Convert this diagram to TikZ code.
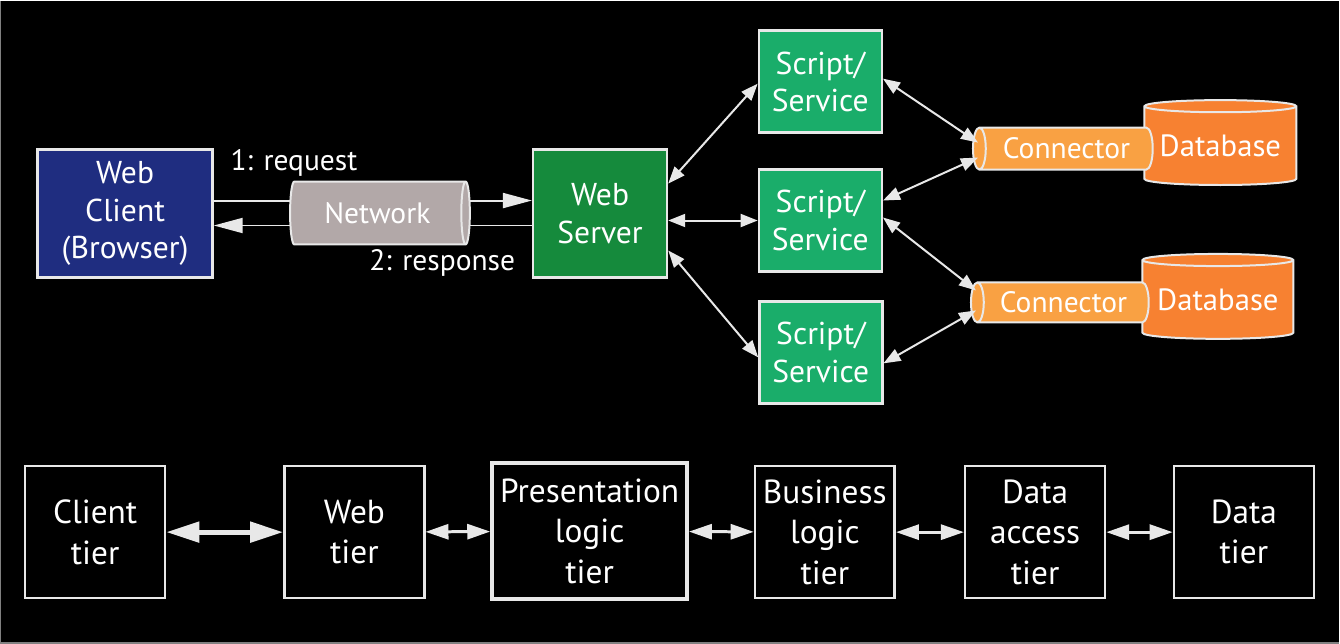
\documentclass[tikz,border=0pt]{standalone}
\usepackage{fontspec}
\setmainfont{PT Sans}
\usetikzlibrary{arrows.meta,shapes.geometric}

\definecolor{linegray}{HTML}{E8E8E8}
\definecolor{clientblue}{HTML}{1F2D80}
\definecolor{servergreen}{HTML}{158A3C}
\definecolor{scriptgreen}{HTML}{1AAD6A}
\definecolor{netgray}{HTML}{B2A8A8}
\definecolor{conorange}{HTML}{F9A143}
\definecolor{dborange}{HTML}{F78131}

\begin{document}
\begin{tikzpicture}[x=0.02cm,y=-0.02cm,
	box/.style={draw=linegray, line width=0.05cm, text=white, align=center, inner sep=0pt, font=\fontsize{18}{21.3}\selectfont},
	scriptbox/.style={box, fill=scriptgreen, minimum width=2.46cm, minimum height=2.04cm},
	tierbox/.style={box, fill=black, minimum width=2.8cm, minimum height=2.64cm, font=\fontsize{19}{23}\selectfont},
	pipe/.style={cylinder, draw=linegray, line width=0.04cm, text=white, inner sep=0pt, font=\fontsize{16.8}{19}\selectfont},
	lbl/.style={text=white, inner sep=0pt, font=\fontsize{16.8}{19}\selectfont},
	link/.style={draw=linegray, line width=0.04cm, {Triangle[width=0.26cm,length=0.34cm]}-{Triangle[width=0.26cm,length=0.34cm]}},
	tierlink/.style={draw=linegray, line width=0.06cm, {Triangle[width=0.3cm,length=0.46cm]}-{Triangle[width=0.3cm,length=0.46cm]}},
	wirehead/.style={draw=linegray, line width=0.04cm, -{Triangle[width=0.3cm,length=0.58cm]}}]
	\fill [black] (0,0) rectangle (1340,643);
	\draw [gray, line width=0.03cm] (0,0) -- (0,643) -- (1340,643);

	\node [box, fill=clientblue, minimum width=3.5cm, minimum height=2.56cm] (client) at (124.5,213) {Web\\Client\\(Browser)};
	\node [box, fill=servergreen, minimum width=2.68cm, minimum height=2.56cm] (server) at (600,213) {Web\\Server};
	\draw [wirehead] ([yshift=0.26cm]client.east) -- ([yshift=0.26cm]server.west);
	\draw [wirehead] ([yshift=-0.24cm]server.west) -- ([yshift=-0.24cm]client.east);
	\node [pipe, fill=netgray, aspect=0.4, minimum height=3.6cm, minimum width=1.26cm] (network) at (377,212.5) {Network};
	\node [lbl] (request) at (293.5,162) {1: request};
	\node [lbl] (response) at (442,262) {2: response};

	\node [scriptbox] (script1) at (820.5,81) {Script/\\Service};
	\node [scriptbox] (script2) at (820.5,220) {Script/\\Service};
	\node [scriptbox] (script3) at (821,352) {Script/\\Service};

	\node [pipe, shape border rotate=90, fill=dborange, aspect=0.1, minimum width=3.04cm, minimum height=1.7cm, font=\fontsize{17.5}{19}\selectfont] (db1) at (1221,145.5) {\raisebox{-0.1cm}{Database}};
	\node [pipe, shape border rotate=90, fill=dborange, aspect=0.1, minimum width=3.02cm, minimum height=1.7cm, font=\fontsize{17.5}{19}\selectfont] (db2) at (1218.5,299.5) {\raisebox{-0.1cm}{Database}};
	\node [pipe, shape border rotate=180, fill=conorange, aspect=0.6, minimum height=3.6cm, minimum width=0.84cm] (con1) at (1067,148) {Connector};
	\node [pipe, shape border rotate=180, fill=conorange, aspect=0.6, minimum height=3.56cm, minimum width=0.8cm] (con2) at (1064,302) {Connector};

	\draw [link] ([yshift=0.6cm]server.east) -- ([yshift=-0.04cm]script1.west);
	\draw [link] (server.east |- script2.west) -- (script2.west);
	\draw [link] ([yshift=-0.74cm]server.east) -- ([yshift=-0.1cm]script3.west);
	\draw [link] ([yshift=0.06cm]script1.east) -- ([xshift=0.12cm,yshift=0.12cm]con1.west);
	\draw [link] ([yshift=0.4cm]script2.east) -- ([xshift=0.12cm,yshift=-0.18cm]con1.west);
	\draw [link] ([yshift=0.06cm]script2.east) -- ([xshift=0.12cm,yshift=0.24cm]con2.west);
	\draw [link] ([yshift=-0.22cm]script3.east) -- ([xshift=0.12cm,yshift=-0.16cm]con2.west);

	\node [tierbox] (ctier) at (94.5,532) {Client\\tier};
	\node [tierbox] (wtier) at (354,532) {Web\\tier};
	\node [tierbox, line width=0.08cm, minimum width=3.9cm, minimum height=2.72cm] (ptier) at (589.5,531) {Presentation\\logic\\tier};
	\node [tierbox] (btier) at (825,532) {Business\\logic\\tier};
	\node [tierbox] (datier) at (1035.5,532) {Data\\access\\tier};
	\node [tierbox] (dtier) at (1244.5,532) {Data\\tier};
	\draw [tierlink, line width=0.1cm, {Triangle[width=0.4cm,length=0.66cm]}-{Triangle[width=0.4cm,length=0.66cm]}] (ctier) -- (wtier);
	\draw [tierlink] (wtier) -- (ptier);
	\draw [tierlink] (ptier) -- (btier);
	\draw [tierlink] (btier) -- (datier);
	\draw [tierlink] (datier) -- (dtier);
\end{tikzpicture}
\end{document}
